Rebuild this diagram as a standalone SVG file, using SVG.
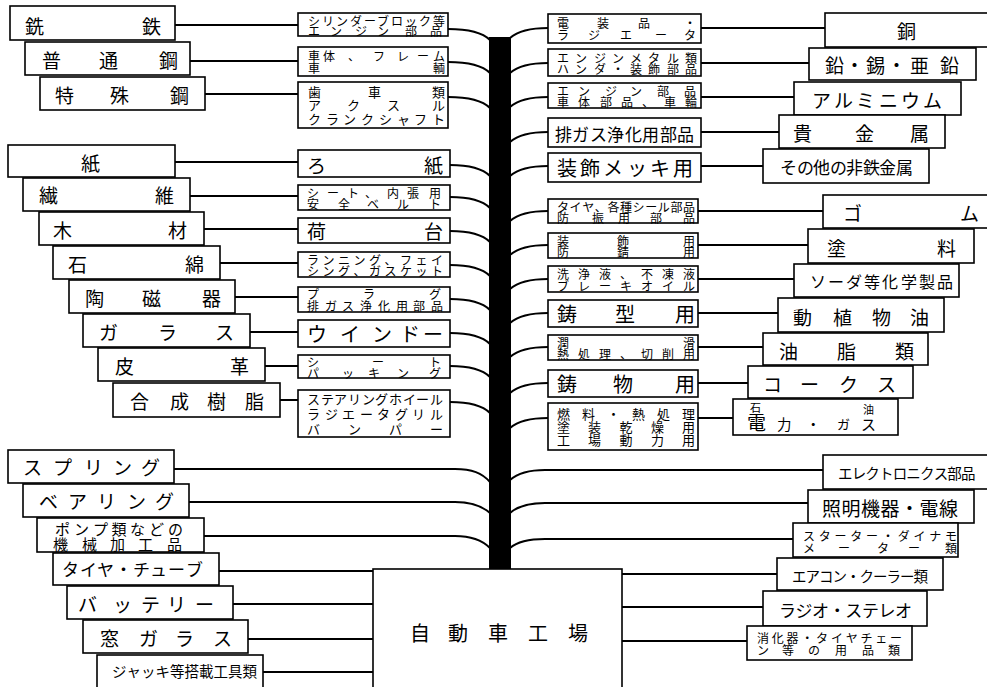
<svg xmlns="http://www.w3.org/2000/svg" width="987" height="687" viewBox="0 0 987 687">
<style>
.b{fill:#fff;stroke:#000;stroke-width:1.6}
.c{fill:none;stroke:#000;stroke-width:2}
text{font-family:"Noto Sans CJK JP","Noto Sans CJK SC",sans-serif;fill:#000;dominant-baseline:central}
.f20{font-size:20px}
.f19{font-size:19px}
.f17{font-size:17px}
.f16{font-size:16px}
.f15{font-size:15px}
.f14{font-size:14.5px}
.f13{font-size:13px}
.f12{font-size:12px}
.f11{font-size:11px}
</style>
<rect width="987" height="687" fill="#fff"/>
<g id="connectors">
<rect x="489" y="37" width="22" height="534" fill="#000"/>
<path class="c" d="M175 25H298M190 61H298M205 94H298M175 162H298M190 196H298M204 229H298M220 263H298M235 297H298M250 332H298M265 366H298M280 400H298"/>
<path class="c" d="M448 29C468 29 482 32 490 40M448 62C468 62 482 65 490 73M448 97C468 97 482 100 490 108M450 165C470 165 482 168 490 176M450 197C470 197 482 200 490 208M450 231C470 231 482 234 490 242M450 265C470 265 482 268 490 276M450 299C470 299 482 302 490 310M450 333C470 333 482 336 490 344M450 366C470 366 482 369 490 377M450 402C470 402 482 405 490 413"/>
<path class="c" d="M510 38C518 31 530 28 548 28M510 73C518 66 530 63 548 63M510 107C518 100 530 97 548 97M510 142C518 135 530 132 548 132M510 176C518 169 530 166 548 166M510 221C518 214 530 211 548 211M510 255C518 248 530 245 548 245M510 289C518 282 530 279 548 279M510 323C518 316 530 313 548 313M510 357C518 350 530 347 548 347M510 393C518 386 530 383 548 383M510 428C518 421 530 418 548 418"/>
<path class="c" d="M701 28H825M701 63H809M701 97H794M701 132H779M701 166H763M698 211H823M698 245H808M698 279H794M698 313H778M698 347H763M698 383H748M698 418H733"/>
<path class="c" d="M174 469H455C472 469 482 473 490 482M189 502H455C472 502 482 506 490 513M204 536H455C472 536 482 540 490 548"/>
<path class="c" d="M510 480C518 473 530 470 545 470H823M510 513C518 506 530 503 545 503H808M510 548C518 541 530 539 545 539H793"/>
<path class="c" d="M219 571H373M233 604H373M248 639H373M263 672H373M622 574H777M622 607H763M622 641H747"/>
</g>
<g id="n1"><rect class="b" x="10" y="6" width="165" height="34"/><text class="f19" x="25 142" y="25">銑鉄</text></g>
<g id="n2"><rect class="b" x="25" y="42" width="165" height="33"/><text class="f19" x="42 99 159" y="59">普通鋼</text></g>
<g id="n3"><rect class="b" x="40" y="77" width="165" height="33"/><text class="f19" x="55 110 170" y="94">特殊鋼</text></g>
<g id="m1"><rect class="b" x="298" y="13" width="150" height="23"/><text class="f12" x="308 322 336 350 364 377 391 405 419 433" y="20">シリンダーブロック等</text><text class="f12" x="308 330 355 377 405 430" y="30">エンジン部品</text></g>
<g id="m2"><rect class="b" x="298" y="47" width="150" height="29"/><text class="f12" x="308 323 348 373 397 417 433" y="55">車体、フレーム</text><text class="f12" x="308 433" y="67">車輌</text></g>
<g id="m3"><rect class="b" x="298" y="82" width="150" height="46"/><text class="f13" x="308 368 432" y="91">歯車類</text><text class="f13" x="308 347 387 432" y="104">アクスル</text><text class="f13" x="308 326 343 361 379 397 414 432" y="118">クランクシャフト</text></g>
<g id="r1"><rect class="b" x="548" y="14" width="153" height="29"/><text class="f12" x="557 597 638 684" y="22">電装品・</text><text class="f12" x="557 588 620 655 684" y="34">ラジエータ</text></g>
<g id="r2"><rect class="b" x="548" y="49" width="153" height="27"/><text class="f12" x="557 575 594 612 630 648 667 685" y="57">エンジンメタル類</text><text class="f12" x="557 575 594 612 630 648 667 685" y="68">ハンダ・装飾部品</text></g>
<g id="r3"><rect class="b" x="548" y="83" width="153" height="25"/><text class="f12" x="557 578 605 630 657 684" y="90">エンジン部品</text><text class="f12" x="557 578 600 621 642 664 685" y="101">車体部品、車輪</text></g>
<g id="r4"><rect class="b" x="548" y="118" width="153" height="29"/><text class="f17" x="555 572 590 607 625 642 660 677" y="133">排ガス浄化用部品</text></g>
<g id="r5"><rect class="b" x="548" y="153" width="153" height="29"/><text class="f20" x="557 580 603 627 650 673" y="167">装飾メッキ用</text></g>
<g id="s1"><rect class="b" x="825" y="13" width="170" height="34"/><text class="f19" x="897" y="30">銅</text></g>
<g id="s2"><rect class="b" x="809" y="48" width="167" height="32"/><text class="f19" x="825 845 866 887 910 940" y="64">鉛・錫・亜鉛</text></g>
<g id="s3"><rect class="b" x="794" y="82" width="167" height="33"/><text class="f19" x="812 834 856 879 901 923" y="99">アルミニウム</text></g>
<g id="s4"><rect class="b" x="779" y="115" width="166" height="33"/><text class="f19" x="793 855 910" y="132">貴金属</text></g>
<g id="s5"><rect class="b" x="763" y="149" width="166" height="34"/><text class="f17" x="780 797 813 830 846 863 879 896" y="166">その他の非鉄金属</text></g>
<g id="n4"><rect class="b" x="8" y="145" width="167" height="32"/><text class="f19" x="81" y="162">紙</text></g>
<g id="n5"><rect class="b" x="23" y="178" width="167" height="33"/><text class="f19" x="39 155" y="194">繊維</text></g>
<g id="n6"><rect class="b" x="39" y="212" width="165" height="33"/><text class="f19" x="53 168" y="229">木材</text></g>
<g id="n7"><rect class="b" x="53" y="246" width="167" height="33"/><text class="f19" x="68 185" y="263">石綿</text></g>
<g id="n8"><rect class="b" x="69" y="280" width="166" height="33"/><text class="f19" x="85 142 202" y="297">陶磁器</text></g>
<g id="n9"><rect class="b" x="83" y="314" width="167" height="33"/><text class="f19" x="99 158 215" y="331">ガラス</text></g>
<g id="n10"><rect class="b" x="98" y="348" width="167" height="33"/><text class="f19" x="115 230" y="365">皮革</text></g>
<g id="n11"><rect class="b" x="113" y="383" width="167" height="34"/><text class="f19" x="130 170 207 245" y="400">合成樹脂</text></g>
<g id="m4"><rect class="b" x="298" y="150" width="152" height="27"/><text class="f19" x="307 424" y="164">ろ紙</text></g>
<g id="m5"><rect class="b" x="298" y="185" width="152" height="25"/><text class="f12" x="307 327 347 365 387 407 429" y="192">シート、内張用</text><text class="f12" x="307 338 367 397 429" y="203">安全ベルト</text></g>
<g id="m6"><rect class="b" x="298" y="218" width="152" height="25"/><text class="f19" x="307 424" y="230">荷台</text></g>
<g id="m7"><rect class="b" x="298" y="252" width="152" height="25"/><text class="f12" x="307 322.5 338 353.5 369 384.5 400 415.5 431" y="259">ランニング、フェイ</text><text class="f12" x="307 322.5 338 353.5 369 384.5 400 415.5 431" y="270">シング、ガスケット</text></g>
<g id="m8"><rect class="b" x="298" y="287" width="152" height="25"/><text class="f12" x="307 363 429" y="293">プラグ</text><text class="f12" x="307 325 342 360 378 396 413 431" y="305">排ガス浄化用部品</text></g>
<g id="m9"><rect class="b" x="298" y="320" width="152" height="27"/><text class="f20" x="307 340 372 400 423" y="333">ウインドー</text></g>
<g id="m10"><rect class="b" x="298" y="355" width="152" height="23"/><text class="f12" x="307 372 429" y="361">シート</text><text class="f12" x="307 342 368 397 429" y="372">パッキング</text></g>
<g id="m11"><rect class="b" x="298" y="390" width="152" height="47"/><text class="f13" x="307 321 334 348 362 375 389 403 416 430" y="398">ステアリングホイール</text><text class="f13" x="307 325 342 360 377 395 412 430" y="413">ラジエータグリル</text><text class="f13" x="307 348 389 430" y="428">バンパー</text></g>
<g id="r6"><rect class="b" x="548" y="199" width="150" height="24"/><text class="f12" x="557 569.6 582.2 594.8 607.4 620 632.6 645.2 657.8 670.4 683" y="206">タイヤ、各種シール部品</text><text class="f12" x="557 592 618 650 683" y="217">防振用部品</text></g>
<g id="r7"><rect class="b" x="548" y="233" width="150" height="25"/><text class="f12" x="557 617 683" y="240">装飾用</text><text class="f12" x="557 617 683" y="251">防錆用</text></g>
<g id="r8"><rect class="b" x="548" y="266" width="150" height="26"/><text class="f12" x="557 578 599 620 641 662 683" y="273">洗浄液、不凍液</text><text class="f12" x="557 578 599 620 641 662 683" y="285">ブレーキオイル</text></g>
<g id="r9"><rect class="b" x="548" y="300" width="150" height="27"/><text class="f20" x="557 615 675" y="313">鋳型用</text></g>
<g id="r10"><rect class="b" x="548" y="335" width="150" height="25"/><text class="f12" x="557 683" y="342">潤滑</text><text class="f12" x="557 578 599 620 641 662 683" y="353">熱処理、切削用</text></g>
<g id="r11"><rect class="b" x="548" y="370" width="150" height="27"/><text class="f20" x="557 613 675" y="383">鋳物用</text></g>
<g id="r12"><rect class="b" x="548" y="403" width="150" height="47"/><text class="f13" x="557 582 607 632 657 682" y="413">燃料・熱処理</text><text class="f13" x="557 588 619.5 651 682" y="426">塗装乾燥用</text><text class="f13" x="557 588 619.5 651 682" y="439">工場動力用</text></g>
<g id="s6"><rect class="b" x="823" y="195" width="170" height="33"/><text class="f19" x="843 960" y="212">ゴム</text></g>
<g id="s7"><rect class="b" x="808" y="229" width="166" height="34"/><text class="f19" x="827 937" y="247">塗料</text></g>
<g id="s8"><rect class="b" x="794" y="264" width="165" height="33"/><text class="f16" x="810 828 846 864 882 901 919 937" y="281">ソーダ等化学製品</text></g>
<g id="s9"><rect class="b" x="778" y="298" width="166" height="34"/><text class="f19" x="793 833 872 910" y="316">動植物油</text></g>
<g id="s10"><rect class="b" x="763" y="333" width="165" height="32"/><text class="f19" x="779 837 895" y="350">油脂類</text></g>
<g id="s11"><rect class="b" x="748" y="366" width="165" height="32"/><text class="f19" x="763 800 839 877" y="383">コークス</text></g>
<g id="s12"><rect class="b" x="733" y="399" width="165" height="36"/><text class="f11" x="750" y="407">石</text><text class="f11" x="863" y="409">油</text><text class="f19" x="747" y="421">電</text><text class="f14" x="777" y="423">力</text><text class="f14" x="806" y="423">・</text><text class="f13" x="837" y="423">ガ</text><text class="f15" x="861" y="423">ス</text></g>
<g id="n12"><rect class="b" x="8" y="450" width="166" height="33"/><text class="f19" x="23 53 84 113 141" y="466">スプリング</text></g>
<g id="n13"><rect class="b" x="23" y="484" width="166" height="33"/><text class="f19" x="39 68 97 127 155" y="500">ベアリング</text></g>
<g id="n14"><rect class="b" x="37" y="518" width="167" height="34"/><text class="f15" x="55 74 93 111.5 130 149 168" y="528">ポンプ類などの</text><text class="f15" x="53 82 110 138 167" y="543">機械加工品</text></g>
<g id="n15"><rect class="b" x="53" y="553" width="166" height="32"/><text class="f17" x="62 80 97 115 133 150 168 186" y="568">タイヤ・チューブ</text></g>
<g id="n16"><rect class="b" x="67" y="586" width="166" height="33"/><text class="f19" x="78 113 141 167 195" y="603">バッテリー</text></g>
<g id="n17"><rect class="b" x="83" y="620" width="165" height="33"/><text class="f19" x="100 139 175 213" y="637">窓ガラス</text></g>
<g id="n18"><rect class="b" x="97" y="655" width="166" height="40"/><text class="f14" x="112 126.5 141 155.5 170 184.5 199 213.5 228 242.5" y="670">ジャッキ等搭載工具類</text></g>
<g id="factory"><rect class="b" x="373" y="569" width="249" height="125"/><text class="f20" x="410 448 488 528 568" y="632">自動車工場</text></g>
<g id="s13"><rect class="b" x="823" y="455" width="170" height="34"/><text class="f14" x="838 851.7 865.3 879 892.7 906.3 920 933.7 947.3 961" y="472">エレクトロニクス部品</text></g>
<g id="s14"><rect class="b" x="808" y="490" width="166" height="33"/><text class="f19" x="822 841.5 861 880.5 900 919.5 939" y="507">照明機器・電線</text></g>
<g id="s15"><rect class="b" x="793" y="523" width="165" height="34"/><text class="f12" x="803 818.8 834.6 850.3 866.1 881.9 897.7 913.4 929.2 945" y="535">スターター・ダイナモ</text><text class="f12" x="803 838 877 908 945" y="547">メーター類</text></g>
<g id="s16"><rect class="b" x="777" y="558" width="166" height="32"/><text class="f14" x="792 805.5 819 832.5 846 859.5 873 886.5 900 913.5" y="575">エアコン・クーラー類</text></g>
<g id="s17"><rect class="b" x="763" y="591" width="164" height="35"/><text class="f17" x="779 795.6 812.1 828.7 845.3 861.9 878.4 895" y="609">ラジオ・ステレオ</text></g>
<g id="s18"><rect class="b" x="747" y="626" width="165" height="34"/><text class="f12" x="757 771.8 786.6 801.3 816.1 830.9 845.7 860.4 875.2 890" y="637">消化器・タイヤチェー</text><text class="f12" x="757 782 808 835 862 888" y="649">ン等の用品類</text></g>
</svg>
